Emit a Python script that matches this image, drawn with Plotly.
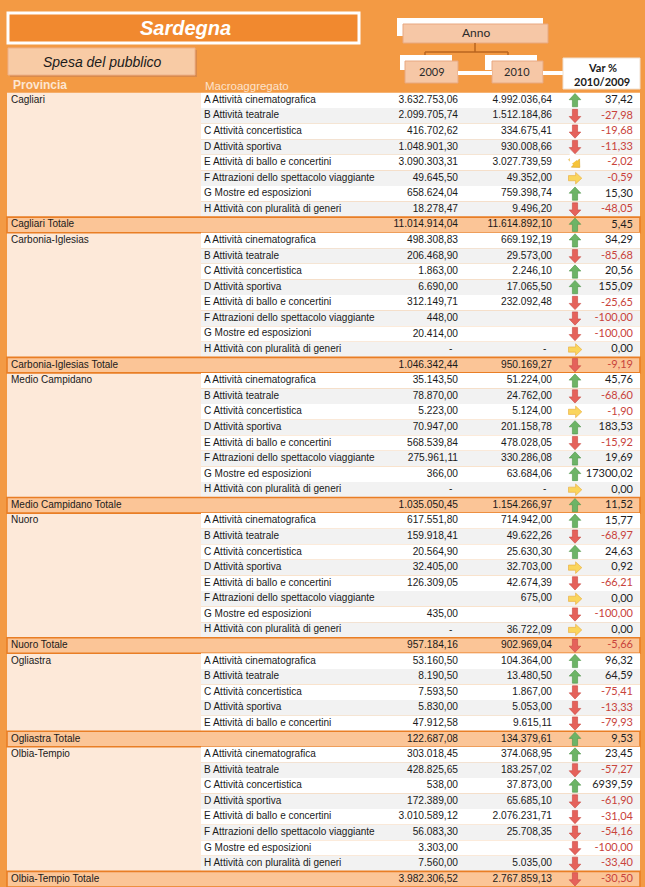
import math
import plotly.graph_objects as go

W, H = 645, 887

# ---------------- data ----------------
provinces = ["Cagliari", "Carbonia-Iglesias", "Medio Campidano", "Nuoro", "Ogliastra", "Olbia-Tempio"]
macroaggregati = [
    "A Attività cinematografica",
    "B Attività teatrale",
    "C Attività concertistica",
    "D Attività sportiva",
    "E Attività di ballo e concertini",
    "F Attrazioni dello spettacolo viaggiante",
    "G Mostre ed esposizioni",
    "H Attività con pluralità di generi",
]

# None = empty cell, 0 = "-"
cagliari_2009 = [3632753.06, 2099705.74, 416702.62, 1048901.30, 3090303.31, 49645.50, 658624.04, 18278.47]
cagliari_2010 = [4992036.64, 1512184.86, 334675.41, 930008.66, 3027739.59, 49352.00, 759398.74, 9496.20]
cagliari_var = [37.42, -27.98, -19.68, -11.33, -2.02, -0.59, 15.30, -48.05]

carbonia_2009 = [498308.83, 206468.90, 1863.00, 6690.00, 312149.71, 448.00, 20414.00, 0]
carbonia_2010 = [669192.19, 29573.00, 2246.10, 17065.50, 232092.48, None, None, 0]
carbonia_var = [34.29, -85.68, 20.56, 155.09, -25.65, -100.00, -100.00, 0.00]

medio_2009 = [35143.50, 78870.00, 5223.00, 70947.00, 568539.84, 275961.11, 366.00, 0]
medio_2010 = [51224.00, 24762.00, 5124.00, 201158.78, 478028.05, 330286.08, 63684.06, 0]
medio_var = [45.76, -68.60, -1.90, 183.53, -15.92, 19.69, 17300.02, 0.00]

nuoro_2009 = [617551.80, 159918.41, 20564.90, 32405.00, 126309.05, None, 435.00, 0]
nuoro_2010 = [714942.00, 49622.26, 25630.30, 32703.00, 42674.39, 675.00, None, 36722.09]
nuoro_var = [15.77, -68.97, 24.63, 0.92, -66.21, 0.00, -100.00, 0.00]

ogliastra_2009 = [53160.50, 8190.50, 7593.50, 5830.00, 47912.58]
ogliastra_2010 = [104364.00, 13480.50, 1867.00, 5053.00, 9615.11]
ogliastra_var = [96.32, 64.59, -75.41, -13.33, -79.93]

olbia_2009 = [303018.45, 428825.65, 538.00, 172389.00, 3010589.12, 56083.30, 3303.00, 7560.00]
olbia_2010 = [374068.95, 183257.02, 37873.00, 65685.10, 2076231.71, 25708.35, None, 5035.00]
olbia_var = [23.45, -57.27, 6939.59, -61.90, -31.04, -54.16, -100.00, -33.40]

totale_2009 = [11014914.04, 1046342.44, 1035050.45, 957184.16, 122687.08, 3982306.52]
totale_2010 = [11614892.10, 950169.27, 1154266.97, 902969.04, 134379.61, 2767859.13]
totale_var = [5.45, -9.19, 11.52, -5.66, 9.53, -30.50]

groups = [
    (cagliari_2009, cagliari_2010, cagliari_var),
    (carbonia_2009, carbonia_2010, carbonia_var),
    (medio_2009, medio_2010, medio_var),
    (nuoro_2009, nuoro_2010, nuoro_var),
    (ogliastra_2009, ogliastra_2010, ogliastra_var),
    (olbia_2009, olbia_2010, olbia_var),
]

# ---------------- helpers ----------------
def fmt_it(v):
    if v is None:
        return ""
    if v == 0:
        return "-  "
    s = f"{v:,.2f}"
    return s.replace(",", "X").replace(".", ",").replace("X", ".")


def fmt_var(v):
    return f"{v:.2f}".replace(".", ",")


def icon(v):
    if v >= 2:
        return "up"
    if v > -2:
        return "right"
    if v > -5:
        return "diag"
    return "down"


ICON_FILL = {"up": "#6DB466", "down": "#E5625B", "right": "#FAD55C", "diag": "#F6C43A"}
ICON_LINE = {"up": "#4E9448", "down": "#C8463F", "right": "#E8A93A", "diag": "#D9A021"}
ICON_ROT = {"up": 0, "down": 180, "right": -90, "diag": -135}
ARROW_SHAPE = [(0, 6.8), (5.8, 0.6), (2.6, 0.6), (2.6, -6.5), (-2.6, -6.5), (-2.6, 0.6), (-5.8, 0.6)]

# ---------------- build rows ----------------
rows = []
group_spans = []
for k, p in enumerate(provinces):
    a_list, b_list, v_list = groups[k]
    start = len(rows)
    for j in range(len(a_list)):
        rows.append(dict(kind="data", prov=p if j == 0 else "", macro=macroaggregati[j],
                         a=a_list[j], b=b_list[j], v=v_list[j], band=j % 2))
    group_spans.append((start, len(rows) - 1))
    rows.append(dict(kind="total", prov=p + " Totale", macro="", a=totale_2009[k],
                     b=totale_2010[k], v=totale_var[k], band=0))

N = len(rows)
ys = list(range(N))

TABLE_TOP = 92.5
ROW_PX = (H - TABLE_TOP) / N


def py(p):
    return 1 - p / H


# ---------------- figure ----------------
fig = go.Figure()

BODY = "Liberation Sans, Arial, sans-serif"
CAL = "Lato, Carlito, Calibri, Liberation Sans"
TXT = "#1A1A1A"

shapes = []
for (s, e) in group_spans:
    shapes.append(dict(type="rect", xref="x", yref="y", x0=7, x1=201, y0=s - 0.5, y1=e + 0.5,
                       fillcolor="#FDE9D9", line=dict(width=0), layer="below"))
for i, r in enumerate(rows):
    if r["kind"] == "data":
        shapes.append(dict(type="rect", xref="x", yref="y", x0=201, x1=640, y0=i - 0.5, y1=i + 0.5,
                           fillcolor="#F2F2F2" if r["band"] else "#FFFFFF", line=dict(width=0), layer="below"))
    else:
        shapes.append(dict(type="rect", xref="x", yref="y", x0=7, x1=640, y0=i - 0.5, y1=i + 0.5,
                           fillcolor="#FBC597", line=dict(width=1.6, color="#E97E25"), layer="below"))


def rect(x0, x1, y0, y1, fill, lc=None, lw=0):
    shapes.append(dict(type="rect", xref="x", yref="paper", x0=x0, x1=x1, y0=py(y1), y1=py(y0),
                       fillcolor=fill, line=dict(width=lw, color=lc or fill)))


def seg(x0, y0, x1, y1, color, w):
    shapes.append(dict(type="line", xref="x", yref="paper", x0=x0, x1=x1, y0=py(y0), y1=py(y1),
                       line=dict(color=color, width=w)))


rect(8, 359, 13, 43, "#F1892F", "#FFFFFF", 3)
rect(10, 197, 50, 77, "#D98A4C")
rect(8, 195, 48, 75, "#F8CBA5", "#EDB08A", 1)
rect(397, 543, 18, 36, "#FFFFFF")
rect(403, 548, 24, 43, "#F6C7A6", "#E8A880", 1)
seg(475, 43, 475, 52, "#B8651F", 1.5)
seg(425, 52, 508, 52, "#B8651F", 1.5)
seg(425, 52, 425, 56, "#B8651F", 1.5)
seg(508, 52, 508, 56, "#B8651F", 1.5)
rect(400, 452, 55, 70, "#FFFFFF")
rect(405, 458, 61, 83, "#F6C7A6", "#E8A880", 1)
rect(485, 537, 55, 70, "#FFFFFF")
rect(492, 543, 61, 83, "#F6C7A6", "#E8A880", 1)
seg(458, 73, 492, 73, "#FFFFFF", 4)
seg(543, 73, 570, 73, "#FFFFFF", 4)
rect(563, 640, 58, 89, "#FFFFFF", "#F0E0D0", 1)

annotations = []


def label(x, y, text, size, color, family, xanchor="center"):
    annotations.append(dict(x=x, y=py(y), xref="x", yref="paper", text=text, showarrow=False,
                            xanchor=xanchor, yanchor="middle",
                            font=dict(size=size, color=color, family=family)))


label(185, 28, "<b><i>Sardegna</i></b>", 20, "#FFFFFF", "Liberation Sans")
label(102, 62, "<i>Spesa del pubblico</i>", 14, "#1A1A1A", "Liberation Sans")
label(476, 33, "Anno", 12, "#2A2A2A", CAL)
label(432, 72, "2009", 11, "#2A2A2A", CAL)
label(517, 72, "2010", 11, "#2A2A2A", CAL)
label(602, 67, "<b>Var %</b>", 11, "#1A1A1A", CAL)
label(602, 81, "<b>2010/2009</b>", 11, "#1A1A1A", CAL)
label(11, 85, "<b>Provincia</b>", 12, "#FDE6D2", "Liberation Sans", "left")
label(203, 86, "Macroaggregato", 11.5, "#FDE3CC", BODY, "left")

fig.add_trace(go.Scatter(x=[573], y=[py(73)], yaxis="y2", mode="markers",
                         marker=dict(symbol="triangle-right", size=13, color="#FFFFFF"),
                         hoverinfo="skip", showlegend=False))


# ---------------- table text ----------------
def text_trace(x, texts, pos, size=10, color=TXT, family=BODY):
    fig.add_trace(go.Scatter(x=[x] * N, y=ys, mode="text", text=texts, textposition=pos,
                             textfont=dict(size=size, color=color, family=family),
                             hoverinfo="skip", showlegend=False))


text_trace(11, [r["prov"] for r in rows], "middle right")
text_trace(204, [r["macro"] for r in rows], "middle right")
text_trace(458, [fmt_it(r["a"]) for r in rows], "middle left", size=10.2)
text_trace(552, [fmt_it(r["b"]) for r in rows], "middle left", size=10.2)
text_trace(633, [fmt_var(r["v"]) for r in rows], "middle left", size=11,
           color=["#C9433B" if r["v"] < 0 else "#1E1E1E" for r in rows], family=CAL)

# ---------------- arrow icons (polygons around each row centre) ----------------
ARROW_X = 575
for kind in ["up", "down", "right", "diag"]:
    xs, yv = [], []
    a = math.radians(ICON_ROT[kind])
    for i, r in enumerate(rows):
        if icon(r["v"]) != kind:
            continue
        for dx, dy in ARROW_SHAPE + [ARROW_SHAPE[0]]:
            rx = dx * math.cos(a) - dy * math.sin(a)
            ry = dx * math.sin(a) + dy * math.cos(a)
            xs.append(ARROW_X + rx)
            yv.append(i - ry / ROW_PX)
        xs.append(None)
        yv.append(None)
    fig.add_trace(go.Scatter(x=xs, y=yv, mode="lines", fill="toself", fillcolor=ICON_FILL[kind],
                             line=dict(color=ICON_LINE[kind], width=0.6),
                             hoverinfo="skip", showlegend=False))

fig.update_layout(
    width=W, height=H,
    margin=dict(l=0, r=0, t=0, b=0),
    paper_bgcolor="#F39A44",
    plot_bgcolor="rgba(0,0,0,0)",
    shapes=shapes,
    annotations=annotations,
    showlegend=False,
    xaxis=dict(range=[0, W], visible=False, fixedrange=True),
    yaxis=dict(range=[N - 0.5, -0.5], domain=[0, py(TABLE_TOP)], visible=False, fixedrange=True),
    yaxis2=dict(range=[0, 1], domain=[0, 1], overlaying="y", visible=False, fixedrange=True),
)

fig.write_html("out.html", config={"displayModeBar": False},
               post_script="document.body.style.margin='0';document.body.style.overflow='hidden';")
